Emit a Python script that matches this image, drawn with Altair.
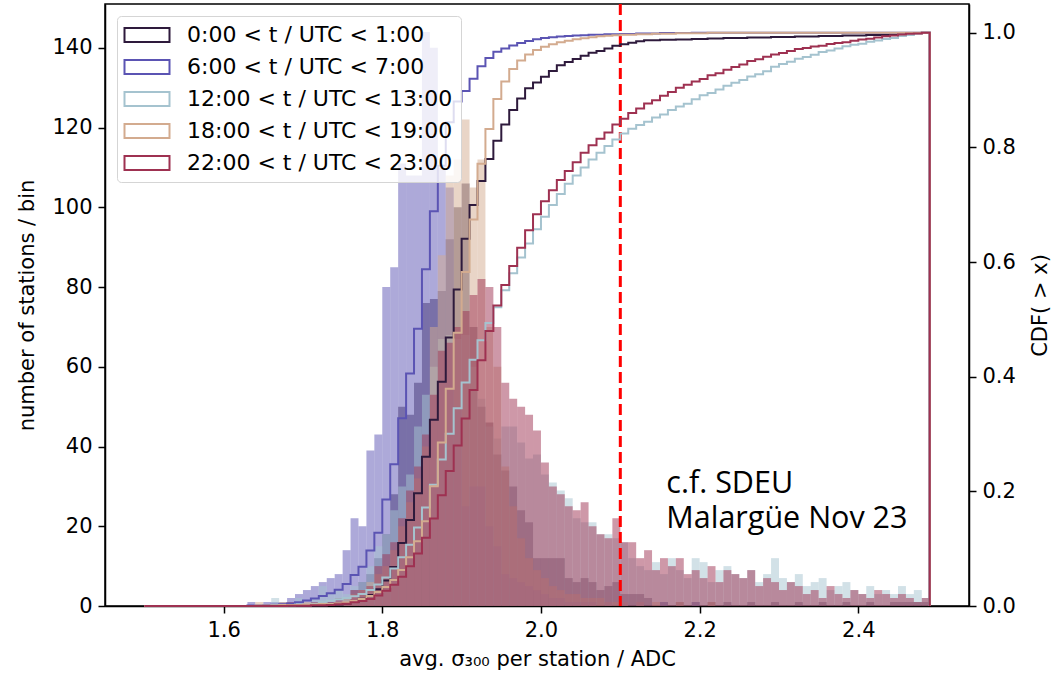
import numpy as np
import pandas as pd
import altair as alt

# ---- data ----
bin_start = 1.50
bin_width = 0.01

series_labels = [
    "0:00 < t / UTC < 1:00",
    "6:00 < t / UTC < 7:00",
    "12:00 < t / UTC < 13:00",
    "18:00 < t / UTC < 19:00",
    "22:00 < t / UTC < 23:00",
]
series_colors = ["#2e1a3c", "#5b54b3", "#a5c3cf", "#d3ab8f", "#9e3151"]

# counts per bin (bins of 0.01 starting at 1.50, 99 bins up to 2.49)
counts_00 = [
    0, 0, 0, 0, 0, 0, 0, 0, 0, 0,
    0, 0, 0, 0, 0, 0, 0, 0, 0, 0,
    0, 1, 0, 1, 1, 2, 4, 6, 8, 12,
    18, 28, 50, 48, 56, 76, 77, 79, 92, 100,
    106, 70, 50, 46, 38, 34, 30, 24, 21, 12,
    12, 12, 12, 7, 6, 7, 6, 4, 5, 6,
    3, 3, 3, 2, 0, 1, 0, 1, 0, 1,
    0, 1, 0, 1, 0, 0, 1, 0, 0, 1,
    0, 0, 1, 0, 0, 1, 0, 0, 1, 0,
    0, 1, 0, 0, 1, 1, 1, 1, 1,
]
counts_06 = [
    0, 0, 0, 0, 0, 0, 0, 0, 0, 0,
    0, 0, 0, 1, 0, 1, 1, 1, 2, 3,
    4, 5, 6, 7, 8, 14, 22, 20, 39, 43,
    80, 85, 111, 108, 108, 144, 140, 110, 105, 50,
    25, 30, 30, 20, 15, 8, 7, 6, 5, 4,
    3, 2, 2, 1, 1, 1, 1, 0, 1, 0,
    1, 0, 1, 0, 0, 1, 0, 0, 0, 1,
    0, 0, 0, 0, 0, 0, 0, 0, 0, 0,
    0, 0, 0, 0, 0, 0, 0, 0, 0, 0,
    0, 0, 0, 0, 0, 0, 0, 0, 0,
]
counts_12 = [
    0, 0, 0, 0, 0, 0, 0, 0, 0, 0,
    0, 0, 0, 0, 0, 0, 2, 0, 0, 2,
    0, 2, 5, 3, 4, 3, 5, 6, 10, 15,
    18, 24, 30, 33, 45, 53, 60, 67, 68, 67,
    68, 60, 52, 45, 42, 45, 45, 41, 37, 38,
    33, 31, 29, 27, 22, 21, 21, 18, 18, 17,
    16, 12, 10, 9, 11, 8, 12, 9, 7, 12,
    11, 6, 9, 10, 8, 7, 9, 6, 8, 12,
    7, 6, 8, 5, 6, 7, 4, 5, 6, 4,
    3, 5, 3, 4, 3, 5, 3, 4, 2,
]
counts_18 = [
    0, 0, 0, 0, 0, 0, 0, 0, 0, 0,
    0, 0, 0, 0, 1, 0, 0, 1, 0, 0,
    1, 0, 1, 0, 1, 2, 3, 4, 6, 8,
    10, 14, 20, 26, 32, 40, 70, 88, 108, 112,
    122, 105, 112, 70, 60, 35, 25, 17, 12, 9,
    7, 5, 4, 3, 3, 2, 2, 2, 1, 1,
    1, 0, 1, 0, 1, 0, 0, 1, 0, 0,
    0, 1, 0, 0, 0, 0, 0, 0, 0, 0,
    0, 0, 0, 0, 0, 0, 0, 0, 0, 0,
    0, 0, 0, 0, 0, 0, 0, 0, 0,
]
counts_22 = [
    0, 0, 0, 0, 0, 0, 0, 0, 0, 0,
    0, 0, 0, 0, 0, 0, 0, 0, 1, 0,
    0, 1, 0, 1, 2, 1, 4, 4, 5, 10,
    13, 16, 22, 29, 35, 43, 53, 64, 66, 70,
    74, 78, 82, 80, 70, 56, 52, 50, 48, 44,
    36, 30, 28, 25, 24, 26, 20, 18, 17, 22,
    16, 16, 12, 14, 9, 12, 10, 12, 8, 9,
    7, 10, 6, 9, 8, 7, 9, 5, 7, 6,
    4, 6, 5, 3, 4, 2, 5, 3, 2, 4,
    3, 2, 4, 3, 2, 3, 2, 1, 2,
]
all_counts = [counts_00, counts_06, counts_12, counts_18, counts_22]

x_ticks = [1.6, 1.8, 2.0, 2.2, 2.4]
y_ticks = [0, 20, 40, 60, 80, 100, 120, 140]
cdf_ticks = [0.0, 0.2, 0.4, 0.6, 0.8, 1.0]
marker_x = 2.1
note_lines = ["c.f. SDEU", "Malargüe Nov 23"]
note_x = 2.158
note_y = 28.4

# ---- tables ----
hist_rows = []
line_rows = []
for s, (lab, cnts) in enumerate(zip(series_labels, all_counts)):
    cnts = np.asarray(cnts, dtype=float)
    edges = np.round(bin_start + bin_width * np.arange(len(cnts) + 1), 4)
    for i, c in enumerate(cnts):
        if c > 0:
            hist_rows.append(dict(sidx=s, lo=edges[i], hi=edges[i + 1], count=c))
    cdf = np.cumsum(cnts) / cnts.sum()
    pts = [(edges[0], 0.0)] + [(edges[i], cdf[i]) for i in range(len(cnts))]
    pts += [(edges[-1], cdf[-1]), (edges[-1], 0.0)]
    for k, (xv, yv) in enumerate(pts):
        line_rows.append(dict(series=lab, sidx=s, k=k, x=float(xv), cdf=float(yv)))

hist_df = pd.DataFrame(hist_rows)
line_df = pd.DataFrame(line_rows)
rule_df = pd.DataFrame({"x": [marker_x]})
note_df = pd.DataFrame({"x": [note_x], "y": [note_y], "t": ["\n".join(note_lines)]})

XTITLE = "avg. σ₃₀₀ per station / ADC"
YTITLE = "number of stations / bin"

x_scale = alt.Scale(domain=[1.4505, 2.5395], nice=False, zero=False)
y_scale = alt.Scale(domain=[0, 151], nice=False, zero=True)
c_scale = alt.Scale(domain=[0, 1.05], nice=False, zero=True)
fill_scale = alt.Scale(domain=list(range(len(series_labels))), range=series_colors)
stroke_scale = alt.Scale(domain=series_labels, range=series_colors)

x_axis = alt.Axis(values=x_ticks, format=".1f", title=XTITLE, titlePadding=8)
y_axis = alt.Axis(values=y_ticks, format="d", title=YTITLE, titlePadding=14)

hist = alt.Chart(hist_df).mark_rect(opacity=0.5, strokeWidth=0).encode(
    x=alt.X("lo:Q", scale=x_scale, axis=x_axis),
    x2="hi:Q",
    y=alt.Y("count:Q", scale=y_scale, axis=y_axis),
    y2=alt.datum(0),
    fill=alt.Fill("sidx:N", scale=fill_scale, legend=None),
    order=alt.Order("sidx:Q"),
)

rule = alt.Chart(rule_df).mark_rule(color="#ff0000", strokeWidth=3, strokeDash=[11, 5]).encode(
    x=alt.X("x:Q", scale=x_scale, axis=x_axis)
)

note = alt.Chart(note_df).mark_text(
    align="left", baseline="alphabetic", font="Open Sans", fontSize=30.5, color="black",
    lineBreak="\n", lineHeight=35,
).encode(
    x=alt.X("x:Q", scale=x_scale, axis=x_axis),
    y=alt.Y("y:Q", scale=y_scale, axis=y_axis),
    text="t:N",
)

lines = alt.Chart(line_df).mark_line(interpolate="step-after", strokeWidth=2).encode(
    x=alt.X("x:Q", scale=x_scale, axis=x_axis),
    y=alt.Y(
        "cdf:Q",
        scale=c_scale,
        axis=alt.Axis(orient="right", values=cdf_ticks, format=".1f", title="CDF( > x)",
                      titleAngle=270, titleBaseline="top", titlePadding=14),
    ),
    stroke=alt.Stroke(
        "series:N",
        scale=stroke_scale,
        title="",
        legend=alt.Legend(
            orient="top-left",
            offset=12,
            symbolType="M-2.25,-0.7L2.25,-0.7L2.25,0.7L-2.25,0.7Z",
            symbolSize=400,
            symbolStrokeWidth=2,
            symbolFillColor="white",
            symbolOffset=11,
            labelOffset=29,
            labelFont="DejaVu Sans",
            labelFontSize=22,
            labelColor="black",
            labelLimit=500,
            rowPadding=10,
            padding=8,
            fillColor="rgba(255,255,255,0.8)",
            strokeColor="#d5d5d5",
            cornerRadius=4,
            zindex=2,
        ),
    ),
    detail="sidx:N",
    order=alt.Order("k:Q"),
)

chart = (
    alt.layer(alt.layer(hist, rule, note), lines)
    .resolve_scale(y="independent")
    .properties(
        width=864,
        height=602,
        padding={"left": 105, "top": 4, "right": 84, "bottom": 70},
        autosize=alt.AutoSizeParams(type="none"),
        background="white",
    )
    .configure_view(stroke="black", strokeWidth=1.5)
    .configure_axis(
        grid=False,
        domainColor="black",
        domainWidth=1.5,
        tickColor="black",
        tickWidth=1.5,
        tickSize=7,
        labelPadding=6,
        labelFont="DejaVu Sans",
        labelFontSize=21,
        labelColor="black",
        titleFont="DejaVu Sans",
        titleFontSize=21,
        titleFontWeight="normal",
        titleColor="black",
    )
)

chart.save("out.html", embed_options={"renderer": "svg", "actions": False})
